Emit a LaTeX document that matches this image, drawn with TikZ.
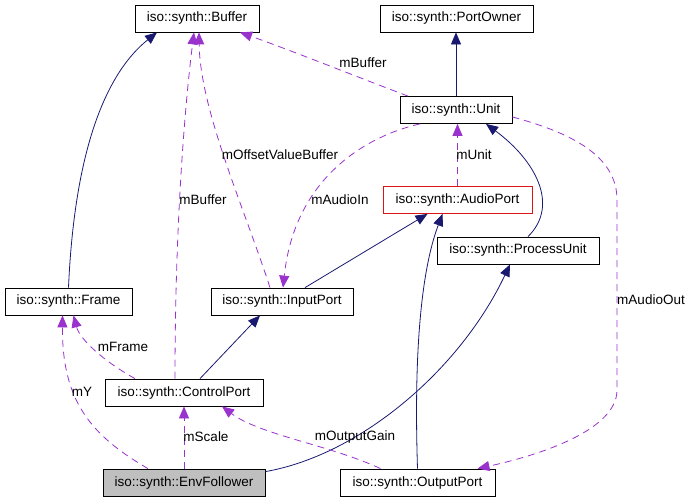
\documentclass[tikz,border=0pt]{standalone}
\usepackage{fontspec}
\setmainfont{Liberation Sans}
\usetikzlibrary{arrows.meta}
\definecolor{EdgeNavy}{RGB}{25,25,112}
\definecolor{EdgePurple}{RGB}{154,50,205}
\definecolor{TruncRed}{RGB}{220,20,20}

\begin{document}
\begin{tikzpicture}[x=1pt,y=-1pt,
  b/.style={rectangle,draw=black,line width=0.8pt,minimum height=27pt,inner sep=0pt,font=\fontsize{13.5}{16}\selectfont},
  inh/.style={draw=EdgeNavy,line width=0.8pt,-{Triangle[length=12pt,width=10pt]}},
  usg/.style={draw=EdgePurple,line width=0.8pt,dash pattern=on 7pt off 5pt,-{Triangle[length=12pt,width=10pt]}},
  lbl/.style={font=\fontsize{13.5}{16}\selectfont,inner sep=0pt}
]
  \useasboundingbox (0,0) rectangle (692,501);
  % classes
  \node[b,minimum width=124pt] (Buffer) at (197,18.5) {iso::synth::Buffer};
  \node[b,minimum width=153pt] (PortOwner) at (456.5,18.5) {iso::synth::PortOwner};
  \node[b,minimum width=112pt] (Unit) at (456,110) {iso::synth::Unit};
  \node[b,draw=TruncRed,minimum width=149pt] (AudioPort) at (457.5,200) {iso::synth::AudioPort};
  \node[b,minimum width=162pt] (ProcessUnit) at (518,250.5) {iso::synth::ProcessUnit};
  \node[b,minimum width=127pt] (Frame) at (68.5,301.5) {iso::synth::Frame};
  \node[b,minimum width=142pt] (InputPort) at (282,301.5) {iso::synth::InputPort};
  \node[b,minimum width=158pt] (ControlPort) at (184,392.5) {iso::synth::ControlPort};
  \node[b,fill=black!25,minimum width=162pt] (EnvFollower) at (184,482.5) {iso::synth::EnvFollower};
  \node[b,minimum width=155pt] (OutputPort) at (417.5,482.5) {iso::synth::OutputPort};
  % inheritance
  \draw[inh] (Frame.north) .. controls (75,140) and (110,70) .. ([xshift=-40pt]Buffer.south);
  \draw[inh] (Unit.north) -- (Unit.north |- PortOwner.south);
  \draw[inh] ([xshift=10pt]ProcessUnit.north) .. controls (560,205) and (535,160) .. ([xshift=30pt]Unit.south);
  \draw[inh] ([xshift=23pt]InputPort.north) -- ([xshift=-30pt]AudioPort.south);
  \draw[inh] (OutputPort.north) .. controls (413,330) and (425,260) .. ([xshift=-15pt]AudioPort.south);
  \draw[inh] ([xshift=16pt]ControlPort.north) -- ([xshift=-22pt]InputPort.south);
  \draw[inh] ([yshift=-3pt]EnvFollower.north east) .. controls (360,455) and (460,370) .. ([xshift=-8pt]ProcessUnit.south);
  % usage
  \draw[usg] ([xshift=-9pt]ControlPort.north) .. controls (175,200) and (188,80) .. ([xshift=-3pt]Buffer.south);
  \draw[usg] ([xshift=-12pt]InputPort.north) .. controls (245,210) and (200,110) .. ([xshift=2pt]Buffer.south);
  \draw[usg] ([xshift=-48pt]Unit.north) .. controls (360,78) and (290,50) .. ([xshift=43pt]Buffer.south);
  \draw[usg] (AudioPort.north) -- (AudioPort.north |- Unit.south);
  \draw[usg] ([xshift=-36pt]Unit.south) .. controls (370,135) and (295,175) .. ([xshift=1pt]InputPort.north);
  \draw[usg] ([xshift=-49pt]ControlPort.north) .. controls (105,362) and (80,340) .. ([xshift=5pt]Frame.south);
  \draw[usg] ([xshift=-36pt]EnvFollower.north) .. controls (90,435) and (62,400) .. ([xshift=-6pt]Frame.south);
  \draw[usg] (EnvFollower.north) -- (ControlPort.south);
  \draw[usg] ([xshift=-37pt]OutputPort.north) .. controls (330,445) and (260,435) .. ([xshift=38pt]ControlPort.south);
  \draw[usg] ([yshift=-7pt]Unit.east) .. controls (580,135) and (617,160) .. (617,200) -- (617,390) .. controls (617,430) and (540,455) .. ([xshift=60pt]OutputPort.north);
  % member names
  \node[lbl] (lBufA) at (203,200) {mBuffer};
  \node[lbl] (lOffset) at (280,155) {mOffsetValueBuffer};
  \node[lbl] (lBufB) at (363,63) {mBuffer};
  \node[lbl] (lUnit) at (474,155) {mUnit};
  \node[lbl] (lAudioIn) at (340,200) {mAudioIn};
  \node[lbl] (lFrame) at (123,347) {mFrame};
  \node[lbl] (lY) at (82,392) {mY};
  \node[lbl] (lScale) at (206,437) {mScale};
  \node[lbl] (lGain) at (355,437) {mOutputGain};
  \node[lbl] (lAudioOut) at (651,300) {mAudioOut};
\end{tikzpicture}
\end{document}
